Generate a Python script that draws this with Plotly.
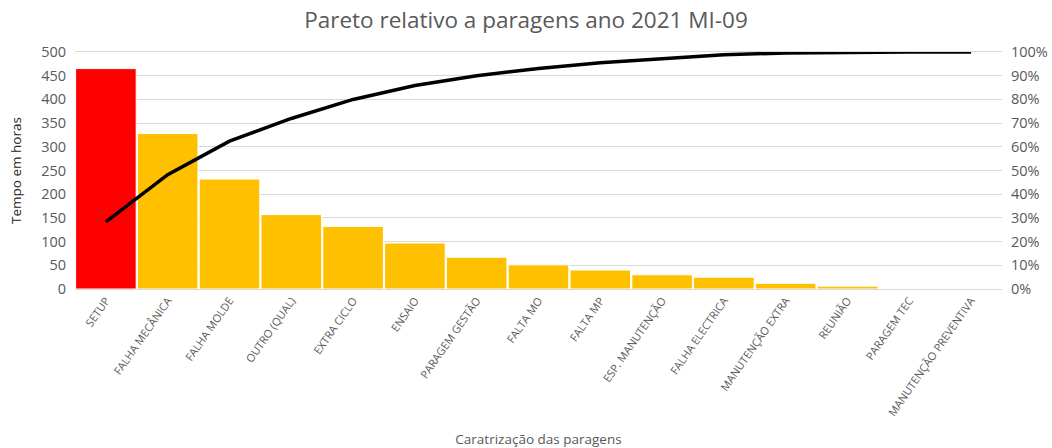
import plotly.graph_objects as go
import numpy as np

categories = ["SETUP", "FALHA MECÂNICA", "FALHA MOLDE", "OUTRO (QUAL)", "EXTRA CICLO",
              "ENSAIO", "PARAGEM GESTÃO", "FALTA MO", "FALTA MP", "ESP. MANUTENÇÃO",
              "FALHA ELECTRICA", "MANUTENÇÃO EXTRA", "REUNIÃO", "PARAGEM TEC",
              "MANUTENÇÃO PREVENTIVA"]
hours = [465, 328, 232, 157, 132, 97, 67, 51, 40, 30, 25, 12, 6, 0.5, 0.3]
bar_colors = ["#FF0000"] + ["#FFC000"] * (len(categories) - 1)

cum_pct = np.cumsum(hours) / np.sum(hours) * 100

FONT = "Open Sans"
GRAY = "#595959"

fig = go.Figure()
fig.add_trace(go.Bar(x=categories, y=hours, marker=dict(color=bar_colors, line=dict(color="white", width=1)),
                     yaxis="y", showlegend=False))
fig.add_trace(go.Scatter(x=categories, y=cum_pct, mode="lines", line=dict(color="black", width=3.5),
                         yaxis="y2", showlegend=False))

fig.update_layout(
    width=1052, height=448,
    margin=dict(l=75, r=50, t=52, b=159),
    paper_bgcolor="white", plot_bgcolor="white",
    bargap=0.02,
    font=dict(family=FONT, color=GRAY),
    title=dict(text="Pareto relativo a paragens ano 2021 MI-09", x=0.5, xanchor="center",
               y=0.955, yanchor="middle", font=dict(size=22.5, color=GRAY, family=FONT)),
    xaxis=dict(tickangle=-55, tickfont=dict(size=11, color=GRAY), showgrid=False, automargin=False,
               showline=True, linecolor="#d9d9d9", mirror=True, ticks="",
               title=dict(text="Caratrização das paragens", font=dict(size=13.5, color=GRAY), standoff=18)),
    yaxis=dict(range=[0, 500], dtick=50, tickfont=dict(size=14.5, color=GRAY), showgrid=True,
               gridcolor="#d9d9d9", zeroline=False, showline=False, ticks="", ticklabelstandoff=8,
               automargin=False,
               title=dict(text="Tempo em horas", font=dict(size=13.5, color="#262626"), standoff=16)),
    yaxis2=dict(range=[0, 100], dtick=10, ticksuffix="%", overlaying="y", side="right",
                tickfont=dict(size=14.5, color=GRAY), showgrid=False, zeroline=False, ticks="",
                ticklabelstandoff=8, automargin=False),
)

fig.write_html("out.html")
